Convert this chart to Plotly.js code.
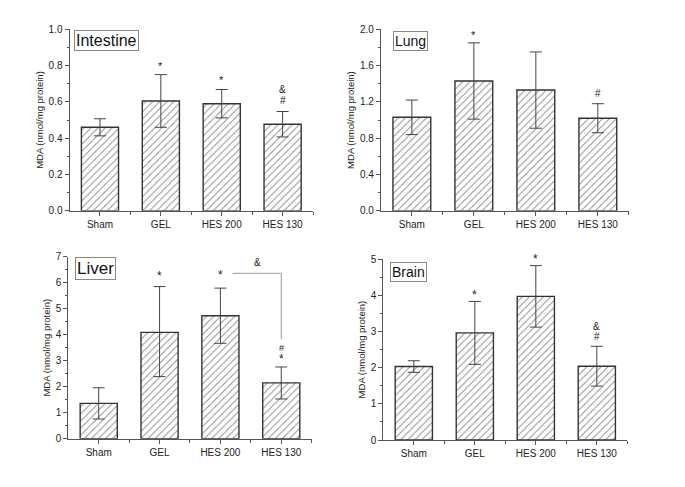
<!DOCTYPE html>
<html><head><meta charset="utf-8">
<script src="https://cdn.plot.ly/plotly-3.0.1.min.js"></script>
<style>html,body{margin:0;padding:0;background:#fff;}#chart{width:685px;height:487px;}</style>
</head><body><div id="chart"></div>
<script>
const categories = ["Sham", "GEL", "HES 200", "HES 130"];
const intestineMean = [0.46, 0.605, 0.59, 0.477];
const intestineErr  = [0.047, 0.145, 0.078, 0.07];
const lungMean = [1.03, 1.43, 1.33, 1.02];
const lungErr  = [0.19, 0.42, 0.42, 0.16];
const liverMean = [1.36, 4.09, 4.73, 2.15];
const liverErrPlus  = [0.6, 1.76, 1.06, 0.61];
const liverErrMinus = [0.6, 1.7, 1.06, 0.62];
const brainMean = [2.03, 2.96, 3.97, 2.04];
const brainErr  = [0.16, 0.87, 0.85, 0.55];

const xIdx = categories.map((c, i) => i);
const FONT = "Liberation Sans, Arial, sans-serif";

function barTrace(y, plus, minus, ax) {
  return {
    type: "bar", x: xIdx, y: y, xaxis: "x" + ax, yaxis: "y" + ax, width: 0.61,
    marker: {color: "#ffffff", line: {color: "#333", width: 1.4},
      pattern: {shape: "/", fgcolor: "#8a8a8a", bgcolor: "#ffffff", size: 5, solidity: 0.18}},
    error_y: {type: "data", array: plus, arrayminus: minus, symmetric: false,
      color: "#444", thickness: 1, width: 6},
    showlegend: false, hoverinfo: "none"
  };
}

const data = [
  barTrace(intestineMean, intestineErr, intestineErr, ""),
  barTrace(lungMean, lungErr, lungErr, "2"),
  barTrace(liverMean, liverErrPlus, liverErrMinus, "3"),
  barTrace(brainMean, brainErr, brainErr, "4")
];

function xax(dom, anchor) {
  return {domain: dom, anchor: anchor, range: [-0.5, 3.5], tickvals: xIdx, ticktext: categories,
    showline: true, linecolor: "#555", linewidth: 1, ticks: "outside", ticklen: 4, tickcolor: "#555",
    showgrid: false, zeroline: false, tickfont: {family: FONT, size: 10, color: "#222"},
    minor: {tickvals: [0.5, 1.5, 2.5, 3.5], ticks: "outside", ticklen: 3, tickcolor: "#555", showgrid: false}};
}
function yax(dom, anchor, max, dt, fmt) {
  return {domain: dom, anchor: anchor, range: [0, max], dtick: dt, tickformat: fmt,
    showline: true, linecolor: "#555", linewidth: 1, ticks: "outside", ticklen: 4, tickcolor: "#555",
    showgrid: false, zeroline: false, tickfont: {family: FONT, size: 10, color: "#222"},
    minor: {dtick: dt / 2, ticks: "outside", ticklen: 2, tickcolor: "#555", showgrid: false},
    title: {text: "MDA (nmol/mg protein)", font: {family: FONT, size: 9.5, color: "#222"}, standoff: 3}};
}

function mark(txt, x, y, ax, size) {
  return {text: txt, x: x, y: y, xref: "x" + ax, yref: "y" + ax, showarrow: false,
    font: {family: FONT, size: size || 11, color: "#222"}};
}
function box(txt, x, y, ax, size) {
  const xr = ax ? "x" + ax + " domain" : "x domain";
  const yr = ax ? "y" + ax + " domain" : "y domain";
  return {text: txt, x: x, y: y, xref: xr, yref: yr, xanchor: "left", yanchor: "top", showarrow: false,
    bordercolor: "#888", borderwidth: 1, borderpad: 1, bgcolor: "#fff",
    font: {family: FONT, size: size, color: "#111"}};
}

const layout = {
  width: 685, height: 487, margin: {l: 0, r: 0, t: 0, b: 0},
  paper_bgcolor: "#fff", plot_bgcolor: "#fff", bargap: 0.39,
  xaxis: xax([0.1015, 0.457], "y"), yaxis: yax([0.567, 0.940], "x", 1.0, 0.2, ".1f"),
  xaxis2: xax([0.556, 0.918], "y2"), yaxis2: yax([0.567, 0.940], "x2", 2.0, 0.4, ".1f"),
  xaxis3: xax([0.0997, 0.455], "y3"), yaxis3: yax([0.099, 0.473], "x3", 7, 1, "d"),
  xaxis4: xax([0.5596, 0.9158], "y4"), yaxis4: yax([0.0965, 0.468], "x4", 5, 1, "d"),
  annotations: [
    box("Intestine", 0.018, 0.995, "", 16),
    box("Lung", 0.048, 0.99, "2", 14),
    box("Liver", 0.029, 1.0, "3", 17),
    box("Brain", 0.027, 0.985, "4", 14),
    mark("*", 1, 0.80, ""), mark("*", 2, 0.72, ""), mark("&", 3, 0.668, "", 10), mark("#", 3, 0.61, "", 10),
    mark("*", 1, 1.94, "2"), mark("#", 3, 1.294, "2", 10),
    mark("*", 1, 6.25, "3", 12), mark("*", 2, 6.3, "3", 12), mark("&", 2.61, 6.77, "3", 10),
    mark("#", 3, 3.5, "3", 9), mark("*", 3, 3.08, "3", 12),
    mark("*", 1, 4.02, "4", 12), mark("*", 2, 5.0, "4", 12), mark("&", 3, 3.13, "4", 10), mark("#", 3, 2.85, "4", 10)
  ],
  shapes: [
    {type: "path", xref: "x3", yref: "y3", path: "M 2.2,6.36 L 3,6.36 L 3,3.82",
      line: {color: "#999", width: 1}}
  ]
};

Plotly.newPlot("chart", data, layout, {staticPlot: true});
</script></body></html>
